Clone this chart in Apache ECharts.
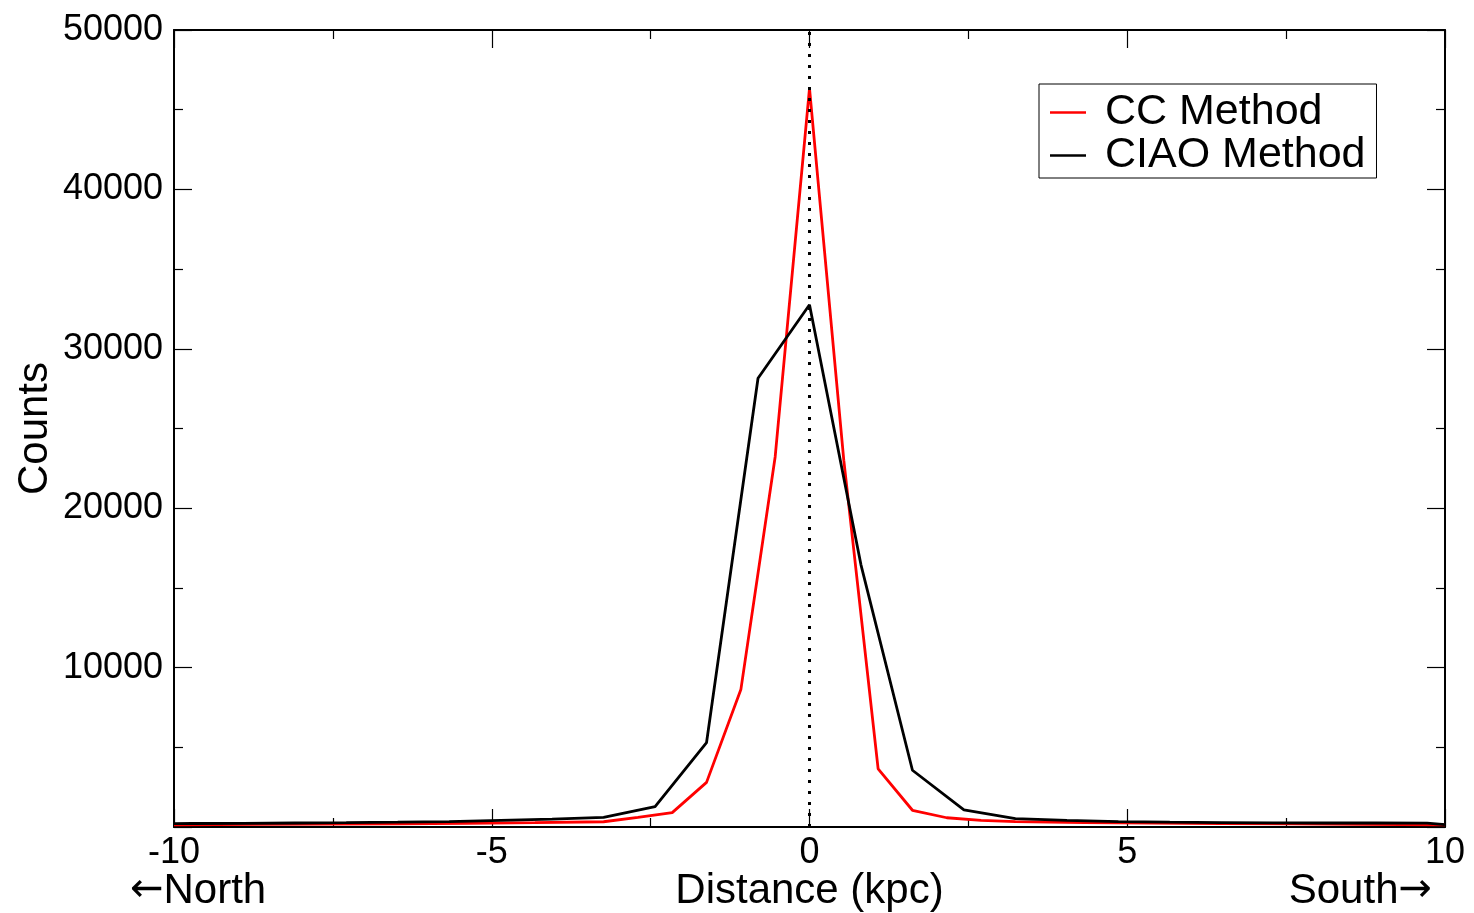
<!DOCTYPE html>
<html>
<head>
<meta charset="utf-8">
<script src="https://cdn.jsdelivr.net/npm/echarts@6/dist/echarts.min.js"></script>
<style>
html,body{margin:0;padding:0;background:#fff;}
#chart{width:1474px;height:913px;}
</style>
</head>
<body>
<div id="chart"></div>
<script>
// CC Method (red)
const ccX = [-10, -8.64, -7.56, -6.48, -5.4, -4.32, -3.24, -2.7, -2.16, -1.62, -1.08, -0.54, 0, 0.54, 1.08, 1.62, 2.16, 2.7, 3.24, 4.32, 5.4, 6.48, 7.56, 8.64, 10];
const ccY = [140, 160, 180, 200, 230, 270, 330, 600, 900, 2800, 8620, 23230, 46340, 23000, 3650, 1050, 580, 420, 340, 280, 240, 210, 190, 170, 130];
// CIAO Method (black)
const ciaoX = [-10, -9.72, -8.91, -8.1, -7.29, -6.48, -5.67, -4.86, -4.05, -3.24, -2.43, -1.62, -0.81, 0, 0.81, 1.62, 2.43, 3.24, 4.05, 4.86, 5.67, 6.48, 7.29, 8.1, 8.91, 9.72, 10];
const ciaoY = [215, 220, 230, 250, 270, 300, 340, 420, 500, 610, 1280, 5300, 28150, 32760, 16450, 3560, 1080, 530, 420, 340, 300, 280, 260, 250, 250, 240, 150];
const seriesNames = ['CC Method', 'CIAO Method'];
const xTicks = {min: -10, max: 10, interval: 5};
const yTicks = {min: 0, max: 50000, interval: 10000};

const chart = echarts.init(document.getElementById('chart'));
const FONT = '"Liberation Sans", Arial, Helvetica, sans-serif';
const zip = (xs, ys) => xs.map((x, i) => [x, ys[i]]);

const axisCommon = {
  axisLine: {show: true, onZero: false, lineStyle: {color: '#000', width: 2}},
  axisTick: {show: true, inside: true, length: 18, lineStyle: {color: '#000', width: 1.2}},
  minorTick: {show: true, splitNumber: 2, length: 9, lineStyle: {color: '#000', width: 1.2}},
  splitLine: {show: false},
  minorSplitLine: {show: false}
};

chart.setOption({
  animation: false,
  backgroundColor: '#fff',
  grid: {left: 174, right: 29, top: 30, bottom: 86, containLabel: false, outerBoundsMode: 'none'},
  legend: {
    data: seriesNames,
    orient: 'vertical',
    left: 1039, top: 84,
    padding: [7, 11, 1, 11],
    itemGap: 0,
    icon: 'rect',
    itemWidth: 36, itemHeight: 2.5,
    borderColor: '#000', borderWidth: 1,
    textStyle: {fontFamily: FONT, fontSize: 43, color: '#000', lineHeight: 43, padding: [0, 0, 0, 14]}
  },
  xAxis: [
    Object.assign({}, axisCommon, {
      type: 'value', position: 'bottom', min: xTicks.min, max: xTicks.max, interval: xTicks.interval,
      name: 'Distance (kpc)', nameLocation: 'middle', nameGap: 43, nameMoveOverlap: false,
      nameTextStyle: {fontFamily: FONT, fontSize: 42, color: '#000'},
      axisLabel: {fontFamily: FONT, fontSize: 36, color: '#000', margin: 8, showMinLabel: true, showMaxLabel: true}
    }),
    Object.assign({}, axisCommon, {
      type: 'value', position: 'top', min: xTicks.min, max: xTicks.max, interval: xTicks.interval,
      axisLabel: {show: false}
    })
  ],
  yAxis: [
    Object.assign({}, axisCommon, {
      type: 'value', position: 'left', min: yTicks.min, max: yTicks.max, interval: yTicks.interval,
      name: 'Counts', nameLocation: 'middle', nameGap: 118, nameRotate: 90, nameMoveOverlap: false,
      nameTextStyle: {fontFamily: FONT, fontSize: 42, color: '#000'},
      axisLabel: {fontFamily: FONT, fontSize: 36, color: '#000', margin: 11,
        formatter: v => (v === 0 ? '' : String(v))}
    }),
    Object.assign({}, axisCommon, {
      type: 'value', position: 'right', min: yTicks.min, max: yTicks.max, interval: yTicks.interval,
      axisLabel: {show: false}
    })
  ],
  series: [
    {
      name: seriesNames[0], type: 'line', data: zip(ccX, ccY), symbol: 'none', showSymbol: false,
      lineStyle: {color: '#ff0000', width: 2.8}, itemStyle: {color: '#ff0000'}, z: 2
    },
    {
      name: seriesNames[1], type: 'line', data: zip(ciaoX, ciaoY), symbol: 'none', showSymbol: false,
      lineStyle: {color: '#000', width: 2.8}, itemStyle: {color: '#000'}, z: 3,
      markLine: {
        silent: true, symbol: ['none', 'none'], label: {show: false},
        lineStyle: {color: '#000', width: 3, type: [3, 8]},
        data: [{xAxis: 0}]
      }
    }
  ],
  graphic: [
    {type: 'text', left: 130, top: 870, style: {
      text: '{a|←}North', font: '42px ' + FONT, fill: '#000',
      rich: {a: {fontFamily: '"DejaVu Sans"', fontSize: 40, fill: '#000'}}}},
    {type: 'text', right: 42, top: 870, style: {
      text: 'South{a|→}', font: '42px ' + FONT, fill: '#000',
      rich: {a: {fontFamily: '"DejaVu Sans"', fontSize: 40, fill: '#000'}}}}
  ]
});
</script>
</body>
</html>
